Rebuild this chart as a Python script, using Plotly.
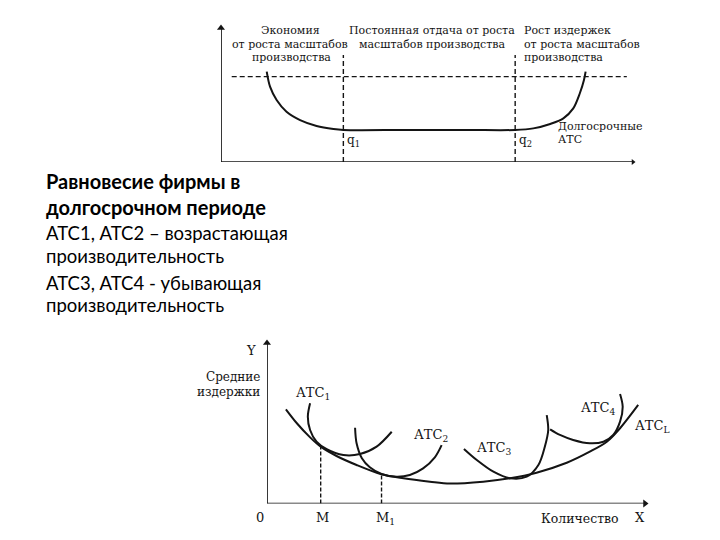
import plotly.graph_objects as go

W, H = 720, 540

# ---------------- data: top diagram (quantity 0-10, cost 0-10) ----------------
top_lratc_x = [1.11, 1.19, 1.35, 1.59, 1.92, 2.32, 2.73, 2.97, 4.50, 6.00, 7.14,
               7.58, 7.99, 8.31, 8.55, 8.71, 8.81, 8.85]
top_lratc_y = [6.74, 5.62, 4.63, 3.75, 3.13, 2.69, 2.46, 2.39, 2.39, 2.39, 2.39,
               2.51, 2.84, 3.26, 4.00, 5.13, 6.12, 6.74]
top_ref_level = 6.37
top_ref_span = [0.26, 9.85]
q_x = [2.97, 7.14]
q_top = 7.99
q_labels = ["q<sub>1</sub>", "q<sub>2</sub>"]

# ---------------- data: bottom diagram ----------------
lratc_x = [0.50, 0.79, 1.14, 1.42, 1.84, 2.37, 3.03, 3.61, 4.31, 4.84, 5.72,
           6.43, 7.13, 7.93, 8.54, 8.99, 9.34, 9.82]
lratc_y = [5.87, 5.00, 4.12, 3.54, 2.96, 2.40, 1.82, 1.57, 1.36, 1.24, 1.36,
           1.57, 1.92, 2.54, 3.23, 3.85, 4.69, 6.14]
atc1_x = [1.14, 1.08, 1.14, 1.31, 1.58, 2.02, 2.46, 2.90, 3.30]
atc1_y = [6.24, 5.41, 4.58, 3.85, 3.38, 3.02, 3.08, 3.54, 4.47]
atc2_x = [2.33, 2.37, 2.51, 2.72, 3.03, 3.43, 3.78, 4.13, 4.44, 4.62]
atc2_y = [4.72, 3.75, 2.82, 2.26, 1.84, 1.67, 1.78, 2.19, 2.88, 3.64]
atc3_x = [5.21, 5.55, 5.99, 6.43, 6.87, 7.18, 7.35, 7.44, 7.40]
atc3_y = [3.40, 2.71, 1.98, 1.57, 1.67, 2.40, 3.54, 4.58, 5.51]
atc4_x = [7.49, 7.75, 8.10, 8.54, 8.90, 9.16, 9.34, 9.41, 9.34]
atc4_y = [4.62, 4.27, 3.96, 3.75, 3.85, 4.27, 5.10, 6.03, 6.82]
m_x = [1.42, 3.03]
m_y = [3.54, 1.82]
atc_labels = ["АТС<sub>1</sub>", "АТС<sub>2</sub>", "АТС<sub>3</sub>", "АТС<sub>4</sub>"]
atc_label_x = [1.22, 4.34, 6.01, 8.76]
atc_label_y = [6.88, 4.21, 3.40, 5.89]
lratc_label = "АТС<sub>L</sub>"

AXIS_MAX = 10

INK = "#141414"
SERIF = "DejaVu Serif"
SANS = "Lato"

fig = go.Figure()

def curve(x, y, xa, ya, width=2.0, dash="solid", shape="spline"):
    fig.add_trace(go.Scatter(x=x, y=y, mode="lines", xaxis=xa, yaxis=ya,
                             line=dict(color=INK, width=width, dash=dash,
                                       shape=shape, smoothing=0.9),
                             hoverinfo="skip", showlegend=False))

def axis_arrow(x, y, xa, ya, symbol, head=8):
    fig.add_trace(go.Scatter(x=x, y=y, mode="lines", xaxis=xa, yaxis=ya,
                             line=dict(color=INK, width=1.7),
                             hoverinfo="skip", showlegend=False))
    fig.add_trace(go.Scatter(x=[x[-1]], y=[y[-1]], mode="markers", xaxis=xa, yaxis=ya,
                             marker=dict(symbol=symbol, size=head, color=INK,
                                         line=dict(width=0)),
                             hoverinfo="skip", showlegend=False))

# axes with arrow heads
axis_arrow([0, 0], [0, AXIS_MAX], "x", "y", "triangle-up", 7)
axis_arrow([0, AXIS_MAX], [0, 0], "x", "y", "triangle-right", 5)
axis_arrow([0, 0], [0, AXIS_MAX], "x2", "y2", "triangle-up", 7)
axis_arrow([0, AXIS_MAX], [0, 0], "x2", "y2", "triangle-right", 7)

# top diagram
curve(top_lratc_x, top_lratc_y, "x", "y", 2.0)
curve(top_ref_span, [top_ref_level, top_ref_level], "x", "y", 1.4, "5px,3px", "linear")
for qx in q_x:
    curve([qx, qx], [0, q_top], "x", "y", 1.4, "5px,3px", "linear")

# bottom diagram
curve(lratc_x, lratc_y, "x2", "y2", 2.0)
for ax_, ay_ in [(atc1_x, atc1_y), (atc2_x, atc2_y), (atc3_x, atc3_y), (atc4_x, atc4_y)]:
    curve(ax_, ay_, "x2", "y2", 2.0)
for mx, my in zip(m_x, m_y):
    curve([mx, mx], [0, my], "x2", "y2", 1.4, "4px,2px", "linear")

ann = []

def ptext(text, x, y, size, family=SERIF, anchor="center", bold=False, color=INK):
    ann.append(dict(x=x / W, y=1 - y / H, xref="paper", yref="paper", text=text,
                    showarrow=False, xanchor=anchor, yanchor="middle", align="left",
                    font=dict(family=family, size=size, color=color,
                              weight="bold" if bold else "normal")))

# top diagram labels
ptext("Экономия", 290, 31, 11)
ptext("от роста масштабов", 290, 44.5, 11)
ptext("производства", 291, 58, 11)
ptext("Постоянная отдача от роста", 432, 31, 11)
ptext("масштабов производства", 432, 44.5, 11)
ptext("Рост издержек", 522, 31, 11, anchor="left")
ptext("от роста масштабов", 522, 44.5, 11, anchor="left")
ptext("производства", 522, 58, 11, anchor="left")
ptext("Долгосрочные", 556, 127, 11, anchor="left")
ptext("АТС", 556, 139.5, 11, anchor="left")
for qx, ql in zip(q_x, q_labels):
    ann.append(dict(x=qx, y=1.6, xref="x", yref="y", text=ql, showarrow=False,
                    xanchor="left", yanchor="middle", xshift=2,
                    font=dict(family=SERIF, size=12, color=INK)))

# slide text
ptext("Равновесие фирмы в<br>долгосрочном периоде", 44, 194, 20, SANS, "left", True, "#000")
ptext("АТС1, АТС2 – возрастающая", 44, 233, 18.5, SANS, "left", False, "#000")
ptext("производительность", 44, 256, 18.5, SANS, "left", False, "#000")
ptext("АТС3, АТС4 - убывающая", 44, 283, 18.5, SANS, "left", False, "#000")
ptext("производительность", 44, 305, 18.5, SANS, "left", False, "#000")

# bottom diagram labels
ptext("Y", 251, 350, 13)
ptext("Средние", 262, 377, 12, anchor="right")
ptext("издержки", 262, 392, 12, anchor="right")
ptext("0", 260, 517, 13)
ptext("М", 322, 517, 13)
ptext("М<sub>1</sub>", 385, 518, 13)
ptext("Количество", 580, 518, 12.5)
ptext("X", 640, 517, 13)
for t, lx, ly in zip(atc_labels, atc_label_x, atc_label_y):
    ann.append(dict(x=lx, y=ly, xref="x2", yref="y2", text=t, showarrow=False,
                    xanchor="center", yanchor="middle",
                    font=dict(family=SERIF, size=13, color=INK)))
ptext(lratc_label, 652, 426, 13)

axis_common = dict(visible=False, range=[0, AXIS_MAX], fixedrange=True)
fig.update_layout(
    width=W, height=H, margin=dict(l=0, r=0, t=0, b=0),
    paper_bgcolor="white", plot_bgcolor="rgba(0,0,0,0)",
    xaxis=dict(domain=[221 / W, 633 / W], anchor="y", **axis_common),
    yaxis=dict(domain=[1 - 162 / H, 1 - 28 / H], anchor="x", **axis_common),
    xaxis2=dict(domain=[267 / W, 645 / W], anchor="y2", **axis_common),
    yaxis2=dict(domain=[1 - 503.5 / H, 1 - 343 / H], anchor="x2", **axis_common),
    annotations=ann, showlegend=False,
)
fig.update_traces(cliponaxis=False)

fig.write_html("out.html")
